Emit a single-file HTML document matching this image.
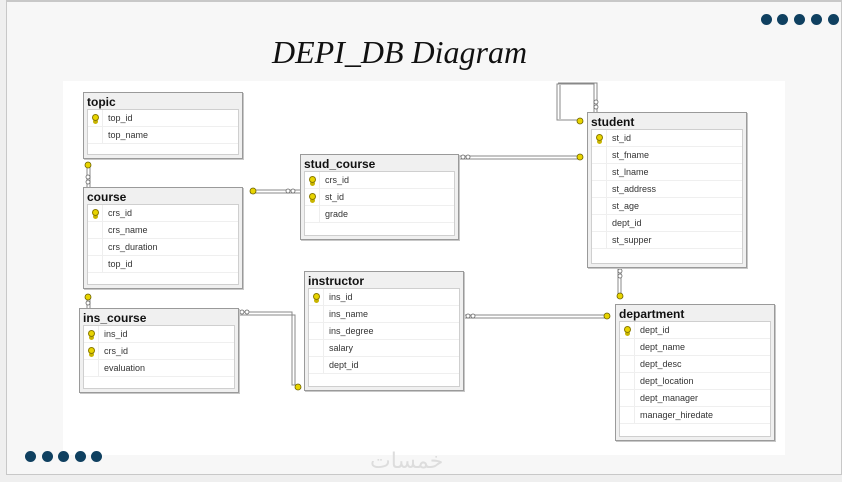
<!DOCTYPE html>
<html><head><meta charset="utf-8"><style>
body{margin:0;width:842px;height:482px;background:#efefef;position:relative;overflow:hidden;font-family:"Liberation Sans",sans-serif}
.slide{position:absolute;left:6px;top:0;width:834px;height:472px;background:#f7f7f7;border:1px solid #c8c8c8;border-top:2px solid #c8c8c8}
.img{position:absolute;left:63px;top:81px;width:722px;height:374px;background:#fff}
.dot{position:absolute;width:11px;height:11px;border-radius:50%;background:#0f4060}
.t{position:absolute;background:#f0f0f0;border:1px solid #9a9a9a;box-shadow:1px 1px 0 #c8c8c8}
.t .h{position:absolute;left:3px;top:2px;font-weight:bold;font-size:12px;color:#111}
.t .b{position:absolute;left:3px;right:3px;bottom:3px;background:#fff;border:1px solid #cfcfcf}
.r{height:16px;border-bottom:1px solid #efefef;position:relative;font-size:9px;color:#333;line-height:16px}
.r span{position:absolute;left:20px}
.r:before{content:"";position:absolute;left:0;top:0;width:14px;height:16px;border-right:1px solid #eee}
.k:after{content:"";position:absolute;left:4px;top:4px;width:5px;height:5px;border-radius:50%;background:#e8d400;border:1px solid #8a7a00;box-shadow:0 4px 0 -1px #c8b400}
.title{position:absolute;left:272px;top:34px;font-family:"Liberation Serif",serif;font-style:italic;font-size:32px;color:#111}
.wm{position:absolute;left:370px;top:448px;font-size:22px;color:#ddd;font-family:"Liberation Sans","DejaVu Sans",sans-serif}
</style></head><body>
<div class="slide"></div>
<div class="dot" style="left:761px;top:14px"></div><div class="dot" style="left:777px;top:14px"></div><div class="dot" style="left:794px;top:14px"></div><div class="dot" style="left:811px;top:14px"></div><div class="dot" style="left:828px;top:14px"></div>
<div class="img"></div>
<div class="dot" style="left:25px;top:451px"></div><div class="dot" style="left:42px;top:451px"></div><div class="dot" style="left:58px;top:451px"></div><div class="dot" style="left:75px;top:451px"></div><div class="dot" style="left:91px;top:451px"></div>
<div class="title">DEPI_DB Diagram</div>
<div class="wm">خمسات</div>
<svg style="position:absolute;left:0;top:0" width="842" height="482">
<g fill="none" stroke="#888" stroke-width="1">
<path d="M87 165V187M90 165V187"/>
<path d="M250 190H300M250 193H300"/>
<path d="M458 156H580M458 159H580"/>
<path d="M594 112V84H557V120H580M597 112V83H558"/>
<path d="M618 267V298M621 267V298"/>
<path d="M463 315H608M463 318H608"/>
<path d="M87 296V308M90 296V308"/>
<path d="M238 312H292V385H300M238 315H295V385"/>
<path d="M560 85V119"/>
</g>
<g fill="#e8d400" stroke="#6a6000" stroke-width="0.8">
<circle cx="88" cy="165" r="3"/><circle cx="253" cy="191" r="3"/><circle cx="580" cy="157" r="3"/><circle cx="580" cy="121" r="3"/><circle cx="620" cy="296" r="3"/><circle cx="607" cy="316" r="3"/><circle cx="88" cy="297" r="3"/><circle cx="298" cy="387" r="3"/>
</g>
<g fill="#fff" stroke="#666" stroke-width="0.8">
<circle cx="88" cy="177" r="2"/><circle cx="88" cy="182" r="2"/><circle cx="463" cy="157" r="2"/><circle cx="468" cy="157" r="2"/><circle cx="596" cy="102" r="2"/><circle cx="596" cy="107" r="2"/><circle cx="620" cy="271" r="2"/><circle cx="620" cy="276" r="2"/><circle cx="468" cy="316" r="2"/><circle cx="473" cy="316" r="2"/><circle cx="88" cy="303" r="2"/><circle cx="242" cy="312" r="2"/><circle cx="247" cy="312" r="2"/><circle cx="288" cy="191" r="2"/><circle cx="293" cy="191" r="2"/>
</g>
</svg>

<div class="t" style="left:83px;top:92px;width:158px;height:65px"><div class="h">topic</div><div class="b" style="top:16px">
<div class="r k"><span>top_id</span></div><div class="r"><span>top_name</span></div></div></div>

<div class="t" style="left:83px;top:187px;width:158px;height:100px"><div class="h">course</div><div class="b" style="top:16px">
<div class="r k"><span>crs_id</span></div><div class="r"><span>crs_name</span></div><div class="r"><span>crs_duration</span></div><div class="r"><span>top_id</span></div></div></div>

<div class="t" style="left:300px;top:154px;width:157px;height:84px"><div class="h">stud_course</div><div class="b" style="top:16px">
<div class="r k"><span>crs_id</span></div><div class="r k"><span>st_id</span></div><div class="r"><span>grade</span></div></div></div>

<div class="t" style="left:79px;top:308px;width:158px;height:83px"><div class="h">ins_course</div><div class="b" style="top:16px">
<div class="r k"><span>ins_id</span></div><div class="r k"><span>crs_id</span></div><div class="r"><span>evaluation</span></div></div></div>

<div class="t" style="left:304px;top:271px;width:158px;height:118px"><div class="h">instructor</div><div class="b" style="top:16px">
<div class="r k"><span>ins_id</span></div><div class="r"><span>ins_name</span></div><div class="r"><span>ins_degree</span></div><div class="r"><span>salary</span></div><div class="r"><span>dept_id</span></div></div></div>

<div class="t" style="left:587px;top:112px;width:158px;height:154px"><div class="h">student</div><div class="b" style="top:16px">
<div class="r k"><span>st_id</span></div><div class="r"><span>st_fname</span></div><div class="r"><span>st_lname</span></div><div class="r"><span>st_address</span></div><div class="r"><span>st_age</span></div><div class="r"><span>dept_id</span></div><div class="r"><span>st_supper</span></div></div></div>

<div class="t" style="left:615px;top:304px;width:158px;height:135px"><div class="h">department</div><div class="b" style="top:16px">
<div class="r k"><span>dept_id</span></div><div class="r"><span>dept_name</span></div><div class="r"><span>dept_desc</span></div><div class="r"><span>dept_location</span></div><div class="r"><span>dept_manager</span></div><div class="r"><span>manager_hiredate</span></div></div></div>
</body></html>
